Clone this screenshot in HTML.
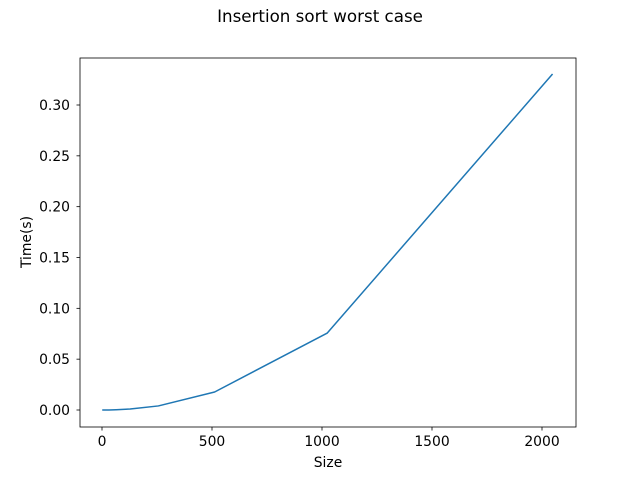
<!DOCTYPE html>
<html><head><meta charset="utf-8"><style>
body{margin:0;background:#fff;}
svg{font-family:"DejaVu Sans","Liberation Sans",sans-serif;}
</style></head><body>
<svg id="chart" width="640" height="480">
<rect width="640" height="480" fill="#fff"/>
<text x="320" y="22" text-anchor="middle" font-size="16.7">Insertion sort worst case</text>
<g id="axes"></g>
<text x="328" y="467" text-anchor="middle" font-size="13.9">Size</text>
<text x="0" y="0" transform="translate(31,242) rotate(-90)" text-anchor="middle" font-size="13.9">Time(s)</text>
</svg>
<script>
const sizes=[1,2,4,8,16,32,64,128,256,512,1024,2048];
const times=[0,0,0,0,0,0,0.0003,0.001,0.004,0.0177,0.0757,0.3305];
const xTicks=[0,500,1000,1500,2000];
const yTicks=[0,0.05,0.10,0.15,0.20,0.25,0.30];
const yLabels=["0.00","0.05","0.10","0.15","0.20","0.25","0.30"];
const L=80,R=576,T=58,B=427;
const xs=v=>102+(v-0)*(542-102)/2000;
const ys=v=>410-v*(410-105)/0.30;
const NS="http://www.w3.org/2000/svg";
const g=document.getElementById('axes');
function mk(t,a){const e=document.createElementNS(NS,t);for(const k in a)e.setAttribute(k,a[k]);g.appendChild(e);return e;}
xTicks.forEach(v=>{
 const x=xs(v);
 const tk=mk('line',{x1:x,x2:x,y1:B,y2:B+3.5,stroke:'#000','stroke-width':0.8});
 
 
 const t=mk('text',{x:x,y:B+19,'text-anchor':'middle','font-size':13.9});
 t.textContent=v;
 
 
});
yTicks.forEach((v,i)=>{
 const y=ys(v);
 const tk=mk('line',{x1:L-3.5,x2:L,y1:y,y2:y,stroke:'#000','stroke-width':0.8});
 
 
 const t=mk('text',{x:L-10,y:y+5,'text-anchor':'end','font-size':13.9});
 t.textContent=yLabels[i];
 
 
});
const p=mk('polyline',{points:sizes.map((s,i)=>xs(s)+','+ys(times[i])).join(' '),fill:'none',stroke:'#1f77b4','stroke-width':1.5,'stroke-linejoin':'round'});


const fr=mk('rect',{x:L,y:T,width:R-L,height:B-T,fill:'none',stroke:'#000','stroke-width':0.8});


</script>
</body></html>
